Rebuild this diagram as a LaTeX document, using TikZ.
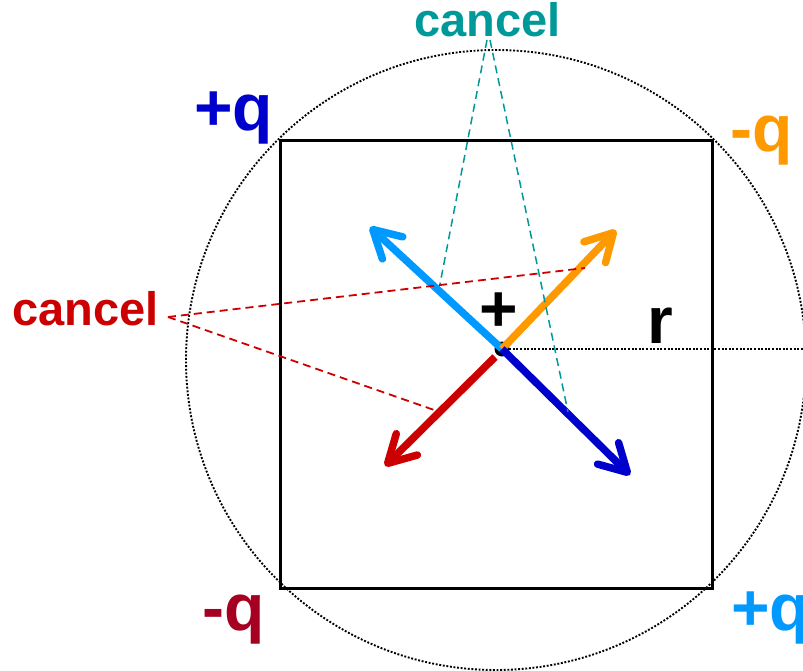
\documentclass[tikz,border=0pt]{standalone}
\usepackage{fontspec}
\setmainfont{Liberation Sans}
\usetikzlibrary{arrows.meta}
\definecolor{dblue}{HTML}{0000CC}
\definecolor{lblue}{HTML}{0099FF}
\definecolor{orng}{HTML}{FF9900}
\definecolor{rred}{HTML}{CC0000}
\definecolor{dred}{HTML}{A50021}
\definecolor{teal2}{HTML}{009999}
\tikzset{
  biglbl/.style={font=\fontsize{66}{70}\selectfont\bfseries, inner sep=0pt, anchor=base west},
  smalllbl/.style={font=\fontsize{47}{50}\selectfont\bfseries, inner sep=0pt, anchor=base west},
  vec/.style={line width=7.5pt, -{Straight Barb[length=27pt,width=30pt,line cap=round,line join=round]}},
  helper/.style={line width=1.8pt, dash pattern=on 8pt off 5pt},
  dotline/.style={line width=1.9pt, dash pattern=on 1.9pt off 1.7pt}
}
\begin{document}
\begin{tikzpicture}[x=1pt,y=-1pt]
\useasboundingbox (0,0) rectangle (803,671);
\clip (0,0) rectangle (803,671);
% circle and square
\draw[dotline] (496,360) circle[radius=310pt];
\draw[line width=3pt] (280,141) rectangle (712,588);
% charge
\coordinate (C) at (502,349);
\coordinate (Redge) at (803,349);
\draw[dotline] (C) -- (Redge);
\fill (C) circle[radius=7.5pt];
% arrow tips
\coordinate (tLB) at (370,227);
\coordinate (tOR) at (616,230);
\coordinate (sRD) at (495,357);
\coordinate (tRD) at (385,466);
\coordinate (tDB) at (630,475);
\draw[vec, lblue] (C) -- (tLB);
\draw[vec, orng] (C) -- (tOR);
\draw[vec, rred] (sRD) -- (tRD);
\draw[vec, dblue] (C) -- (tDB);
% labels
\node[biglbl, text=dblue] (qTL) at (194,131) {+q};
\node[biglbl, text=orng] (qTR) at (730,152) {-q};
\node[biglbl, text=dred] (qBL) at (202,630) {-q};
\node[biglbl, text=lblue] (qBR) at (731,630) {+q};
\node[biglbl] (rlbl) at (647,343) {r};
\node[font=\fontsize{66}{70}\selectfont\bfseries, inner sep=0pt] (plus) at (499,312) {+};
\node[smalllbl, text=rred] (cancelL) at (12,325) {cancel};
\node[smalllbl, text=teal2] (cancelT) at (414,37) {cancel};
% helper dashed lines
\coordinate (rS) at (168,317);
\coordinate (rE1) at (585,268);
\coordinate (rE2) at (437,411);
\draw[helper, rred] (rS) -- (rE1);
\draw[helper, rred] (rS) -- (rE2);
\coordinate (tS1) at (487,40);
\coordinate (tS2) at (490,40);
\coordinate (tE1) at (440,284);
\coordinate (tE2) at (568,412);
\draw[helper, teal2, line width=1.5pt] (tS1) -- (tE1);
\draw[helper, teal2, line width=1.5pt] (tS2) -- (tE2);
\end{tikzpicture}
\end{document}
